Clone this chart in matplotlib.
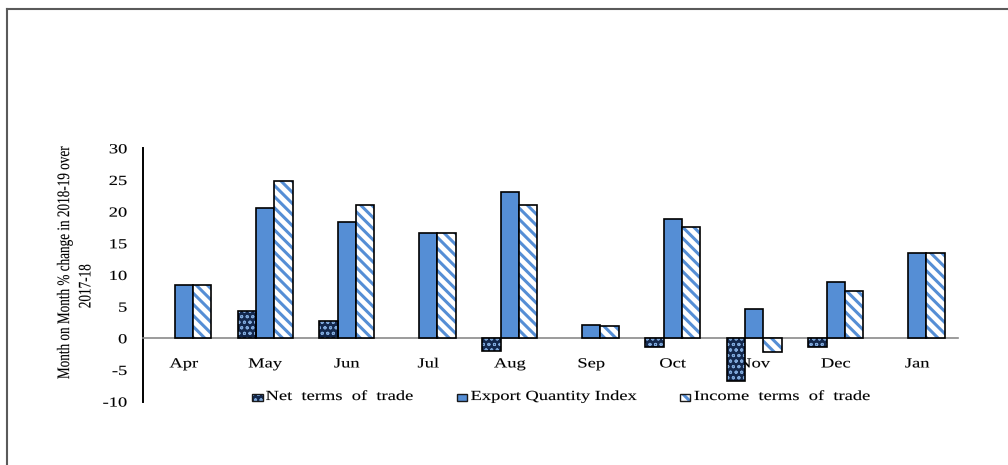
import matplotlib
matplotlib.use("Agg")
import matplotlib.pyplot as plt
import numpy as np
from matplotlib.patches import Rectangle
from matplotlib.lines import Line2D
from matplotlib.transforms import Affine2D
from matplotlib.patheffects import AbstractPathEffect

plt.rcParams["font.family"] = ["Liberation Serif", "DejaVu Serif"]
plt.rcParams["axes.unicode_minus"] = False

# ---- data -------------------------------------------------------------
months = ["Apr", "May", "Jun", "Jul", "Aug", "Sep", "Oct", "Nov", "Dec", "Jan"]
net_terms = [np.nan, 4.3, 2.8, np.nan, -2.0, np.nan, -1.3, -6.8, -1.3, np.nan]
export_qty = [8.4, 20.6, 18.3, 16.6, 23.1, 2.05, 18.9, 4.7, 8.85, 13.5]
income_terms = [8.4, 24.9, 21.0, 16.6, 21.0, 2.0, 17.5, -2.2, 7.4, 13.5]
series_labels = ["Net  terms  of  trade", "Export Quantity Index",
                 "Income  terms  of  trade"]
yticks = list(range(-10, 31, 5))
ytitle_lines = ["Month on Month % change in 2018-19 over", "2017-18"]

# ---- style ------------------------------------------------------------
W, H = 1008, 465
NAVY = "#13284D"
DOT = "#7FA8DA"
BLUE = "#558ED5"
FS = 10
STRETCH = 1.33
NET_HATCH, NET_HLW = "ooo", 0.7
ITT_HATCH, ITT_HLW = "\\\\\\", 2.2


class WideText(AbstractPathEffect):
    """Draw text glyphs widened horizontally about one edge of each line."""

    def __init__(self, sx=STRETCH, anchor="center", stroke=0.08):
        super().__init__()
        self.sx = sx
        self.anchor = anchor
        self.stroke = stroke

    def draw_path(self, renderer, gc, tpath, affine, rgbFace=None):
        bb = tpath.get_extents(affine)
        if self.anchor == "left":
            x0 = bb.x0
        elif self.anchor == "right":
            x0 = bb.x1
        else:
            x0 = 0.5 * (bb.x0 + bb.x1)
        aff = affine + Affine2D().translate(-x0, 0).scale(self.sx, 1).translate(x0, 0)
        gc0 = renderer.new_gc()
        gc0.copy_properties(gc)
        gc0.set_foreground(rgbFace)
        gc0.set_linewidth(self.stroke)
        renderer.draw_path(gc0, tpath, aff, rgbFace)
        gc0.restore()


def set_hatch_lw(patches, lw):
    for p in patches:
        if hasattr(p, "set_hatch_linewidth"):
            p.set_hatch_linewidth(lw)


fig = plt.figure(figsize=(W / 100, H / 100), dpi=100)
ax = fig.add_axes([143 / W, 1 - 401.6 / H, 815 / W, (401.6 - 148.3) / H])

x = np.arange(len(months))
bw = 0.225

# Net terms of trade: navy with light dotted pattern
with plt.rc_context({"hatch.linewidth": NET_HLW}):
    b = ax.bar(x - bw, net_terms, bw, color=NAVY, edgecolor=DOT, linewidth=0,
               hatch=NET_HATCH, zorder=3)
set_hatch_lw(b, NET_HLW)
ax.bar(x - bw, net_terms, bw, fill=False, edgecolor="black", linewidth=1.2, zorder=4)

# Export Quantity Index: solid blue
ax.bar(x, export_qty, bw, color=BLUE, edgecolor="black", linewidth=1.2, zorder=3)

# Income terms of trade: white with blue diagonal stripes
with plt.rc_context({"hatch.linewidth": ITT_HLW}):
    b = ax.bar(x + bw, income_terms, bw, color="white", edgecolor=BLUE, linewidth=0,
               hatch=ITT_HATCH, zorder=3)
set_hatch_lw(b, ITT_HLW)
ax.bar(x + bw, income_terms, bw, fill=False, edgecolor="black", linewidth=1.2, zorder=4)

ax.set_xlim(-0.5, len(months) - 0.5)
ax.set_ylim(-10, 30)
ax.set_yticks(yticks)
ax.set_xticks([])
ax.tick_params(axis="y", length=0, pad=11.5, labelsize=FS)
for lbl in ax.get_yticklabels():
    lbl.set_path_effects([WideText(anchor="right")])

for s in ("top", "right"):
    ax.spines[s].set_visible(False)
ax.spines["bottom"].set_position(("data", 0))
ax.spines["bottom"].set_color("#8A8A8A")
ax.spines["bottom"].set_linewidth(1.2)
ax.spines["left"].set_color("black")
ax.spines["left"].set_linewidth(1.4)
ax.patch.set_visible(False)

# Category names just under the zero line
for i, m in enumerate(months):
    ax.text(i, -4.6, m, ha="center", va="baseline", fontsize=FS, zorder=2,
            path_effects=[WideText(anchor="center")])

# Axis title (two lines)
fig.text(65 / W, 1 - 262 / H, ytitle_lines[0], rotation=90, ha="center", va="center",
         fontsize=FS - 0.5, path_effects=[WideText()])
fig.text(86 / W, 1 - 286 / H, ytitle_lines[1], rotation=90, ha="center", va="center",
         fontsize=FS - 0.5, path_effects=[WideText()])

# Legend row
legend_items = [
    (252.0, 265.7, dict(facecolor=NAVY, edgecolor=DOT, hatch=NET_HATCH, hlw=NET_HLW)),
    (456.5, 470.7, dict(facecolor=BLUE, edgecolor=None, hatch=None, hlw=None)),
    (679.5, 694.0, dict(facecolor="white", edgecolor=BLUE, hatch=ITT_HATCH, hlw=ITT_HLW)),
]
for (hx, tx, st), label in zip(legend_items, series_labels):
    rect_xy = (hx / W, 1 - 401 / H)
    rw, rh = 10.5 / W, 7.5 / H
    if st["hatch"]:
        with plt.rc_context({"hatch.linewidth": st["hlw"]}):
            r = Rectangle(rect_xy, rw, rh, transform=fig.transFigure,
                          facecolor=st["facecolor"], edgecolor=st["edgecolor"],
                          linewidth=0, hatch=st["hatch"])
        set_hatch_lw([r], st["hlw"])
        fig.add_artist(r)
    else:
        fig.add_artist(Rectangle(rect_xy, rw, rh, transform=fig.transFigure,
                                 facecolor=st["facecolor"], linewidth=0))
    fig.add_artist(Rectangle(rect_xy, rw, rh, transform=fig.transFigure,
                             fill=False, edgecolor="#1A1A1A", linewidth=1.0))
    fig.text(tx / W, 1 - 400 / H, label, ha="left", va="baseline", fontsize=FS,
             path_effects=[WideText(anchor="left")])

# Frame edges at top and left
fig.add_artist(Line2D([6.5 / W, 1], [1 - 9 / H, 1 - 9 / H], transform=fig.transFigure,
                      color="#5A5A5A", linewidth=1.5))
fig.add_artist(Line2D([6.5 / W, 6.5 / W], [0, 1 - 9 / H], transform=fig.transFigure,
                      color="#5A5A5A", linewidth=1.5))

fig.savefig("out.png", dpi=100)
